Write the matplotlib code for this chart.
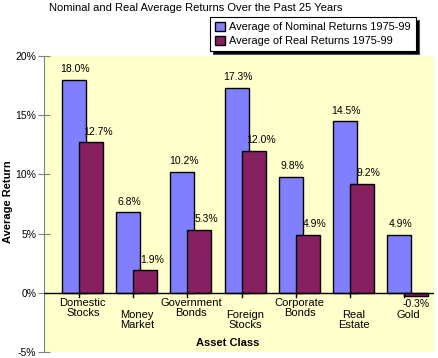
import numpy as np
import matplotlib.pyplot as plt
from matplotlib.patches import Patch
from matplotlib.transforms import blended_transform_factory

plt.rcParams['font.family'] = ['Liberation Sans', 'DejaVu Sans']

# data
categories = ["Domestic\nStocks", "Money\nMarket", "Government\nBonds", "Foreign\nStocks",
              "Corporate\nBonds", "Real\nEstate", "Gold"]
nominal = [18.0, 6.8, 10.2, 17.3, 9.8, 14.5, 4.9]
real = [12.7, 1.9, 5.3, 12.0, 4.9, 9.2, -0.3]
yticks = [-5, 0, 5, 10, 15, 20]

nom_color = '#8080FF'
real_color = '#862060'
bg = '#FFFFCC'

W, H = 438, 358
fig = plt.figure(figsize=(W / 100, H / 100), dpi=100)
fig.patch.set_facecolor('white')

# axes placed in pixel terms
left, right, top, bottom = 44, 434, 56, 352
ax = fig.add_axes([left / W, (H - bottom) / H, (right - left) / W, (bottom - top) / H])
ax.set_facecolor(bg)

x = np.arange(len(categories))
bw = 0.443
ax.bar(x - 0.092, nominal, bw, color=nom_color, edgecolor='black', linewidth=1, zorder=2)
ax.bar(x + 0.221, real, bw, color=real_color, edgecolor='black', linewidth=1, zorder=3)

for i in range(len(categories)):
    ax.annotate(f"{nominal[i]:.1f}%", (x[i] - 0.092, nominal[i]), xytext=(1, 4),
                textcoords='offset points', ha='center', va='bottom', fontsize=7.5)
    if real[i] >= 0:
        ax.annotate(f"{real[i]:.1f}%", (x[i] + 0.221, real[i]), xytext=(5, 4),
                    textcoords='offset points', ha='center', va='bottom', fontsize=7.5)
    else:
        ax.annotate(f"{real[i]:.1f}%", (x[i] + 0.221, real[i]), xytext=(0, -2),
                    textcoords='offset points', ha='center', va='top', fontsize=7.5)

ax.set_xlim(-0.646, 6.55)
ax.set_ylim(-5, 20)
ax.axhline(0, color='black', linewidth=1, zorder=4)

for s in ['top', 'right', 'bottom']:
    ax.spines[s].set_visible(False)
ax.spines['left'].set_color('#808080')
ax.set_yticks(yticks)
ax.set_yticklabels([f"{t}%" for t in yticks], fontsize=7.5)
ax.tick_params(axis='y', direction='inout', length=9, color='#808080', pad=1)
ax.set_xticks([])

# category ticks under the zero line
trans = blended_transform_factory(ax.transData, ax.transAxes)
zero_ax = 5 / 25
for xi in x:
    ax.plot([xi, xi], [zero_ax, zero_ax - 4 / (bottom - top)], color='black', lw=1,
            transform=trans, clip_on=False, zorder=4)

# staggered category labels
label_row = [0, 1, 0, 1, 0, 1, 1]
row_top = [298, 310]
for i, lab in enumerate(categories):
    yt = (bottom - row_top[label_row[i]]) / (bottom - top)
    ax.text(x[i] + 0.07, yt, lab, transform=trans, ha='center', va='top',
            fontsize=8, linespacing=1.0)

fig.text(196 / W, 1 - 3 / H, "Nominal and Real Average Returns Over the Past 25 Years",
         ha='center', va='top', fontsize=8)
fig.text(8 / W, 1 - 202 / H, "Average Return", rotation=90, ha='center', va='center',
         fontsize=8, fontweight='bold')
fig.text(228 / W, 1 - 343 / H, "Asset Class", ha='center', va='center',
         fontsize=8, fontweight='bold')

handles = [Patch(facecolor=nom_color, edgecolor='black', label='Average of Nominal Returns 1975-99'),
           Patch(facecolor=real_color, edgecolor='black', label='Average of Real Returns 1975-99')]
leg = fig.legend(handles=handles, loc='upper left', bbox_to_anchor=(210 / W, 1 - 17 / H),
                 fontsize=7.9, frameon=True, fancybox=False, framealpha=1,
                 shadow={'facecolor': 'black', 'alpha': 1},
                 handlelength=0.9, handleheight=0.9, handletextpad=0.4,
                 borderpad=0.45, labelspacing=0.3, borderaxespad=0)
leg.get_frame().set_edgecolor('black')
leg.get_frame().set_linewidth(0.8)

fig.savefig('out.png', dpi=100)
